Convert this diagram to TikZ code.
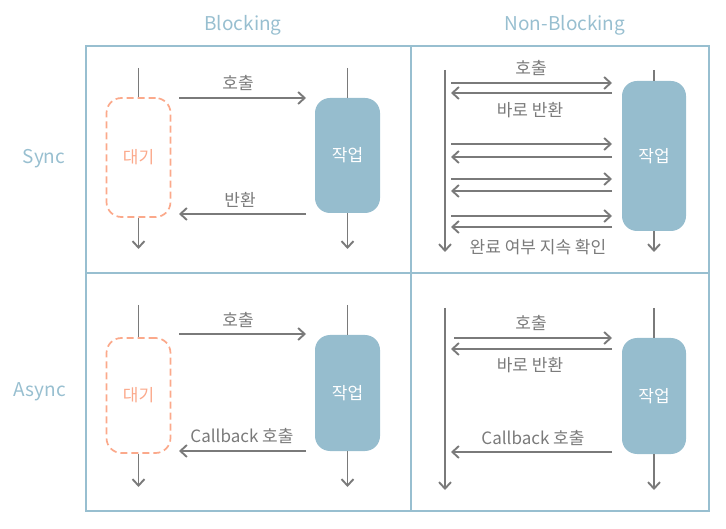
\documentclass[tikz,border=0pt]{standalone}
\usepackage{fontspec}
\setmainfont{Noto Sans CJK KR}
\usetikzlibrary{arrows.meta}
\definecolor{gridblue}{HTML}{98BFD0}
\definecolor{linegray}{HTML}{7A7A7A}
\definecolor{taskblue}{HTML}{96BDCE}
\definecolor{waitorange}{HTML}{FBA98B}
\begin{document}
\begin{tikzpicture}[x=1pt, y=-1pt,
    flow/.style={draw=linegray, line width=1.9pt, -{Straight Barb[length=6.5pt,width=12pt,line width=1.9pt]}},
    life/.style={draw=linegray, line width=1.9pt},
    task/.style={rounded corners=15pt, fill=taskblue, text=white, minimum width=65pt, inner sep=0pt, font=\fontsize{17}{19}\selectfont},
    wait/.style={rounded corners=15pt, draw=waitorange, line width=1.7pt, dash pattern=on 7pt off 4pt, text=waitorange, minimum width=64pt, inner sep=0pt, font=\fontsize{17}{19}\selectfont},
    lbl/.style={text=linegray, inner sep=0pt, font=\fontsize{17}{19}\selectfont},
    head/.style={text=gridblue, inner sep=0pt, font=\fontsize{19}{21}\selectfont}]
    \useasboundingbox (0,0) rectangle (726,529);

    % grid and headers
    \draw[gridblue, line width=2pt] (86,46) rectangle (709,511);
    \draw[gridblue, line width=2pt] (411,46) -- (411,511) (86,273) -- (709,273);
    \node[head] (hblock) at (243,25) {Blocking};
    \node[head] (hnonblock) at (565,25) {Non-Blocking};
    \node[head] (hsync) at (44,159) {Sync};
    \node[head] (hasync) at (40,392) {Async};

    % blocking / sync
    \node[wait, minimum height=119pt] (wait1) at (138.5,157.5) {대기};
    \node[task, minimum height=115pt] (task1) at (347.5,155.5) {작업};
    \coordinate (wtop1) at (138.5,68);
    \coordinate (wbot1) at (138.5,249);
    \coordinate (ttop1) at (347.5,68);
    \coordinate (tbot1) at (347.5,249);
    \coordinate (cs1) at (179,98);
    \coordinate (ce1) at (306,98);
    \coordinate (rs1) at (306,214);
    \coordinate (re1) at (179,214);
    \path[life] (wtop1) -- (wait1.north) (ttop1) -- (task1.north);
    \path[flow] (wait1.south) -- (wbot1);
    \path[flow] (task1.south) -- (tbot1);
    \path[flow] (cs1) -- (ce1);
    \path[flow] (rs1) -- (re1);
    \node[lbl] (call1) at (238,83) {호출};
    \node[lbl] (ret1) at (240,200) {반환};

    % non-blocking / sync
    \node[task, minimum width=64pt, minimum height=150pt] (task2) at (654,156) {작업};
    \coordinate (ltop2) at (445,70);
    \coordinate (lbot2) at (445,252);
    \coordinate (ttop2) at (654,70);
    \coordinate (tbot2) at (654,252);
    \path[flow] (ltop2) -- (lbot2);
    \path[life] (ttop2) -- (task2.north);
    \path[flow] (task2.south) -- (tbot2);
    \foreach \a/\b [count=\i] in {83/93, 144/157, 179/191, 216/227} {
        \coordinate (ps\i) at (451,\a);
        \coordinate (pe\i) at (612,\a);
        \coordinate (qs\i) at (612,\b);
        \coordinate (qe\i) at (451,\b);
        \path[flow] (ps\i) -- (pe\i);
        \path[flow] (qs\i) -- (qe\i);
    }
    \node[lbl] (call2) at (531,68) {호출};
    \node[lbl] (ret2) at (530,110) {바로 반환};
    \node[lbl] (poll2) at (538,247) {완료 여부 지속 확인};

    % blocking / async
    \node[wait, minimum height=115pt] (wait3) at (138.5,395.5) {대기};
    \node[task, minimum height=116pt] (task3) at (347.5,393) {작업};
    \coordinate (wtop3) at (138.5,305);
    \coordinate (wbot3) at (138.5,487);
    \coordinate (ttop3) at (347.5,305);
    \coordinate (tbot3) at (347.5,487);
    \coordinate (cs3) at (179,334);
    \coordinate (ce3) at (306,334);
    \coordinate (rs3) at (306,451);
    \coordinate (re3) at (179,451);
    \path[life] (wtop3) -- (wait3.north) (ttop3) -- (task3.north);
    \path[flow] (wait3.south) -- (wbot3);
    \path[flow] (task3.south) -- (tbot3);
    \path[flow] (cs3) -- (ce3);
    \path[flow] (rs3) -- (re3);
    \node[lbl] (call3) at (238,320) {호출};
    \node[lbl] (cb3) at (242,436) {Callback 호출};

    % non-blocking / async
    \node[task, minimum width=64pt, minimum height=116pt] (task4) at (654,396) {작업};
    \coordinate (ltop4) at (445,308);
    \coordinate (lbot4) at (445,490);
    \coordinate (ttop4) at (654,308);
    \coordinate (tbot4) at (654,490);
    \coordinate (cs4) at (454,338);
    \coordinate (ce4) at (612,338);
    \coordinate (rs4) at (612,349);
    \coordinate (re4) at (451,349);
    \coordinate (bs4) at (612,452);
    \coordinate (be4) at (451,452);
    \path[flow] (ltop4) -- (lbot4);
    \path[life] (ttop4) -- (task4.north);
    \path[flow] (task4.south) -- (tbot4);
    \path[flow] (cs4) -- (ce4);
    \path[flow] (rs4) -- (re4);
    \path[flow] (bs4) -- (be4);
    \node[lbl] (call4) at (531,323) {호출};
    \node[lbl] (ret4) at (530,365) {바로 반환};
    \node[lbl] (cb4) at (533,438) {Callback 호출};
\end{tikzpicture}
\end{document}
